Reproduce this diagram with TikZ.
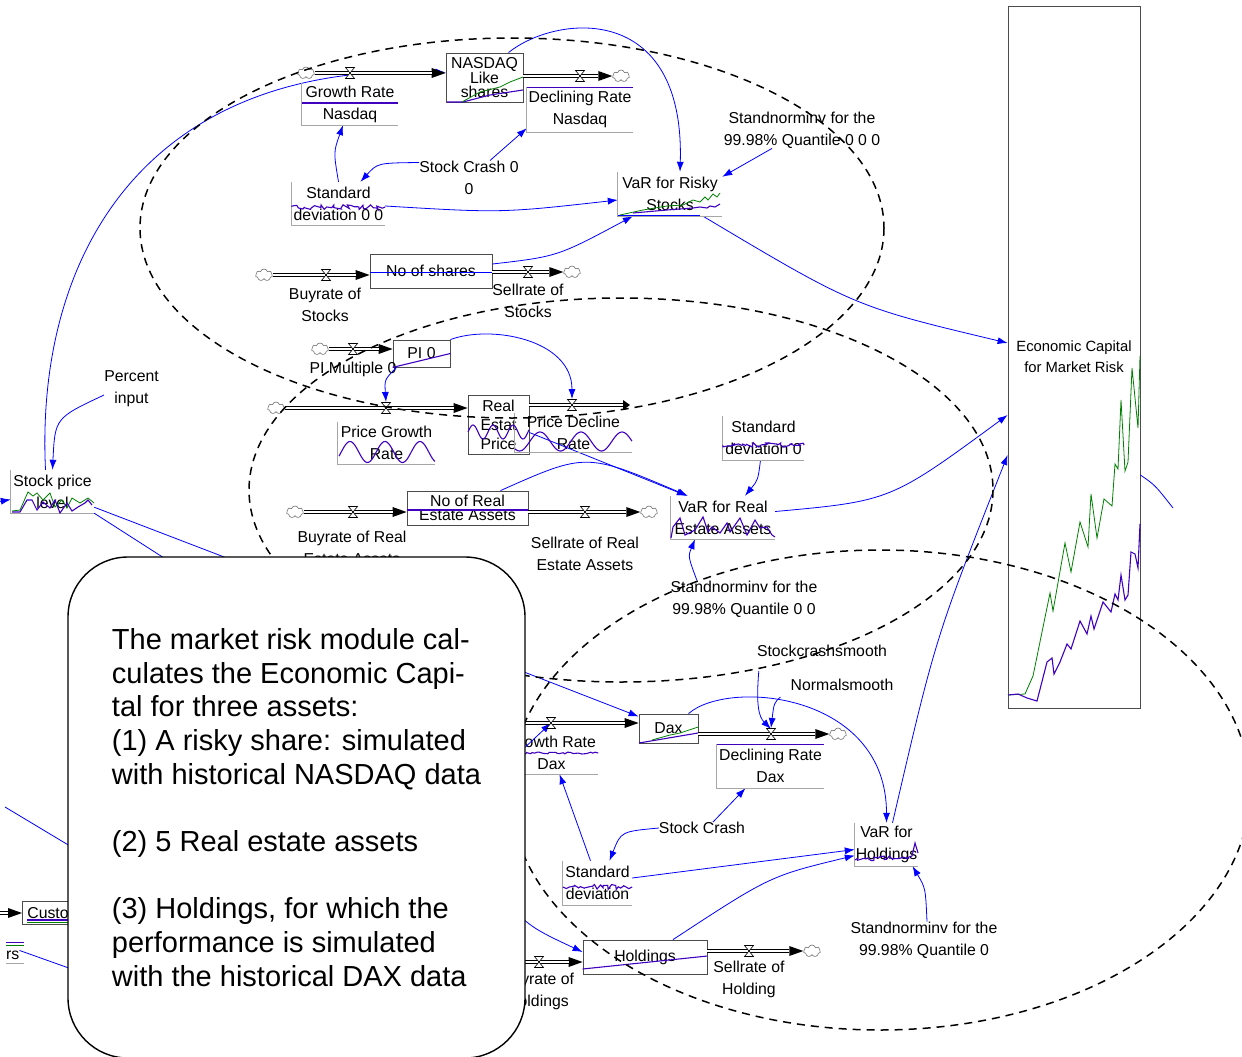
\documentclass[tikz,border=0pt]{standalone}
\usepackage{fontspec}
\setmainfont{Liberation Sans}
\usetikzlibrary{arrows.meta,shapes.symbols,decorations.pathmorphing}
\definecolor{linkblue}{RGB}{0,0,255}
\definecolor{runpurple}{RGB}{64,0,192}
\definecolor{rungreen}{RGB}{0,128,0}

\begin{document}
\begin{tikzpicture}[
x=1pt, y=-1pt,
lbl/.style={align=center, inner sep=0pt, font=\fontsize{15.8}{22}\selectfont},
stock/.style={draw=black!70, line width=0.8pt, align=center, inner sep=0pt, font=\fontsize{15.8}{22}\selectfont},
gaux/.style={align=center, inner sep=0pt, font=\fontsize{15.8}{22}\selectfont},
gframe/.style={draw=black!35, line width=1pt},
link/.style={linkblue, line width=0.8pt, -{Latex[length=10pt,width=7pt]}},
wire/.style={linkblue, line width=0.8pt},
pipe/.style={line width=3.6pt, -{Triangle[length=#1pt,width=10pt,line width=0pt]}, postaction={draw=white, line width=2pt, -, shorten >=#1pt}},
pipe/.default=14,
sink/.style={cloud, cloud puffs=7, aspect=1.4, draw=black!55, fill=white, minimum width=17pt, minimum height=12pt, inner sep=0pt, line width=0.6pt},
bound/.style={line width=1.5pt, dash pattern=on 8pt off 6pt},
run/.style={runpurple, line width=1.1pt},
runb/.style={rungreen, line width=0.8pt},
jag/.style={decorate, decoration={random steps, segment length=2.5pt, amplitude=2.5pt}},
note/.style={draw, line width=1.4pt, fill=white, rounded corners=60pt, minimum width=457, minimum height=501, align=left, inner sep=0pt, font=\fontsize{29}{33.7}\selectfont},
valve/.pic={\draw[fill=white, line width=0.6pt] (-4.5,-5.5) -- (4.5,-5.5) -- (-4.5,5.5) -- (4.5,5.5) -- cycle;}
]
\useasboundingbox (0,0) rectangle (1242,1057);
\pgfmathsetseed{3}

\coordinate (vgn) at (350,73);
\coordinate (vdn) at (580,76);
\coordinate (vbs) at (326,275);
\coordinate (vss) at (528,272);
\coordinate (vpm) at (353,349);
\coordinate (vpg) at (386,408);
\coordinate (vpd) at (572,405);
\coordinate (pend) at (630,405);
\coordinate (vbr) at (353,512);
\coordinate (vsr) at (585,512);
\coordinate (din) at (480,723);
\coordinate (vgd) at (551,723);
\coordinate (vdd) at (771,734);
\coordinate (hin) at (480,962);
\coordinate (vbh) at (539,962);
\coordinate (vsh) at (749,951);
\coordinate (cin) at (-20,913);
\coordinate (dlink) at (470,651);
\coordinate (glink) at (505,766);
\coordinate (hlink) at (480,870);
\coordinate (eout) at (1173,508);
\coordinate (sout1) at (175,565);
\coordinate (sout2) at (245,565);
\coordinate (sin) at (-15,504);
\coordinate (lw1) at (5,807);
\coordinate (lw1e) at (80,852);
\coordinate (lw2e) at (80,972);

\node[stock, minimum width=77, minimum height=49, font=\fontsize{15.8}{14}\selectfont] (nasdaq) at (484.5,77.5) {NASDAQ\\Like\\shares};
\node[gaux, minimum width=96, minimum height=42] (grn) at (350,104) {Growth Rate\\Nasdaq};
\node[gaux, minimum width=106, minimum height=45] (dcn) at (580,109.5) {Declining Rate\\Nasdaq};
\node[lbl] (crash0) at (469,177.5) {Stock Crash 0\\0};
\node[gaux, minimum width=93, minimum height=43] (sdnas) at (338.5,203.5) {Standard\\deviation 0 0};
\node[gaux, minimum width=104, minimum height=44] (varrs) at (670,194) {VaR for Risky\\Stocks};
\node[lbl] (snrs) at (802,130) {Standnorminv for the\\99.98\% Quantile 0 0 0};
\node[stock, minimum width=122, minimum height=34] (shares) at (431,271) {No of shares};
\node[lbl] (buys) at (325,305) {Buyrate of\\Stocks};
\node[lbl] (sells) at (528,300.5) {Sellrate of\\Stocks};
\node[stock, minimum width=57, minimum height=27] (pst) at (421.5,353.5) {PI 0};
\node[lbl] (pim) at (353,369) {PI Multiple 0};
\node[gaux, minimum width=97, minimum height=42] (pgr) at (386.5,443) {Price Growth\\Rate};
\node[stock, minimum width=61, minimum height=59, font=\fontsize{15.8}{19}\selectfont] (rep) at (498.5,424.5) {Real\\Estat\\Price};
\node[gaux, minimum width=117, minimum height=39] (pdr) at (573.5,432.5) {Price Decline\\Rate};
\node[gaux, minimum width=81, minimum height=44] (sdre) at (763.5,438) {Standard\\deviation 0};
\node[gaux, minimum width=104, minimum height=43] (varre) at (723,517.5) {VaR for Real\\Estate Assets};
\node[lbl] (snre) at (744,599) {Standnorminv for the\\99.98\% Quantile 0 0};
\node[stock, minimum width=121, minimum height=34, font=\fontsize{15.8}{14}\selectfont] (nre) at (467.5,508) {No of Real\\Estate Assets};
\node[lbl] (buyr) at (352,548) {Buyrate of Real\\Estate Assets};
\node[lbl] (sellr) at (585,554) {Sellrate of Real\\Estate Assets};
\node[lbl] (pinput) at (131.5,389) {Percent\\input};
\node[gaux, minimum width=83, minimum height=43] (spl) at (52.5,491.5) {Stock price\\level};
\node[stock, minimum width=132, minimum height=702, font=\fontsize{14.8}{21}\selectfont] (econ) at (1074,357) {Economic Capital\\for Market Risk};
\node[stock, minimum width=59, minimum height=29] (dax) at (668.5,728.5) {Dax};
\node[gaux, minimum width=93, minimum height=43] (grd) at (551.5,752.5) {Growth Rate\\Dax};
\node[gaux, minimum width=107, minimum height=44] (dcd) at (770.5,766) {Declining Rate\\Dax};
\node[lbl] (scs) at (822,651) {Stockcrashsmooth};
\node[lbl] (nsm) at (842,685) {Normalsmooth};
\node[lbl] (crash) at (702,828) {Stock Crash};
\node[gaux, minimum width=69, minimum height=44] (sdd) at (597.5,883) {Standard\\deviation};
\node[gaux, minimum width=63, minimum height=43] (varh) at (886.5,844.5) {VaR for\\Holdings};
\node[lbl] (snh) at (924,940) {Standnorminv for the\\99.98\% Quantile 0};
\node[stock, minimum width=124, minimum height=34] (hold) at (645,957) {Holdings};
\node[lbl] (buyh) at (538,991.5) {Buyrate of\\Holdings};
\node[lbl] (sellh) at (749,979) {Sellrate of\\Holding};
\node[stock, anchor=west, minimum height=23, text width=80, align=left, inner xsep=5pt] (cust) at (22,913) {Custo};
\node[lbl, anchor=west] (ers) at (6,955) {rs};

\node[sink] (cl1) at (306,73) {};
\node[sink] (cl2) at (621,76) {};
\node[sink] (cl3) at (264,275) {};
\node[sink] (cl4) at (572,272) {};
\node[sink] (cl5) at (320,349) {};
\node[sink] (cl6) at (276,408) {};
\node[sink] (cl7) at (295,512) {};
\node[sink] (cl8) at (649,512) {};
\node[sink] (cl9) at (838,734) {};
\node[sink] (cl10) at (812,951) {};

\draw[link] ([xshift=-7pt]spl.north) .. controls (35,250) and (150,60) .. ([yshift=5pt]nasdaq.west);
\draw[link] ([yshift=-6pt]pinput.west) .. controls (55,418) .. (spl.north);
\draw[link] (sin) -- ([yshift=-8pt]spl.west);
\draw[wire] (spl.south east) -- (sout1);
\draw[wire] ([yshift=6pt]spl.south east) -- (sout2);
\draw[link] (sdnas.north) .. controls (333.5,152) .. ([xshift=-7pt]grn.south);
\draw[link] ([yshift=15pt]crash0.west) .. controls (377.5,163) .. ([xshift=22pt]sdnas.north);
\draw[link] ([xshift=21pt]crash0.north) -- ([yshift=4pt]dcn.south west);
\draw[link] ([yshift=-2.5pt]sdnas.east) .. controls (501.5,213) .. ([yshift=-6pt]varrs.west);
\draw[link] ([xshift=24pt]nasdaq.north) .. controls (555,15) and (685,0) .. ([xshift=10pt]varrs.north);
\draw[link] ([xshift=-30pt]snrs.south) -- ([yshift=-5pt]varrs.north east);
\draw[link] ([yshift=7pt]shares.east) .. controls (557.5,256.5) .. ([xshift=15pt]varrs.south west);
\draw[link] ([xshift=33pt]varrs.south) .. controls (854.5,306.5) .. ([yshift=14pt]econ.west);
\draw[link] ([xshift=4pt]pst.south west) .. controls (384.5,379.5) .. ([yshift=6pt]vpg);
\draw[link] (pst.north east) .. controls +(40,-15) and +(0,-60) .. ([yshift=6pt]vpd);
\draw[link] ([yshift=-8pt]rep.east) -- ([xshift=16pt]varre.north west);
\draw[link] ([xshift=33pt]nre.north) .. controls (586,452.5) .. ([xshift=17pt]varre.north west);
\draw[link] ([xshift=-3pt]sdre.south) .. controls (758,480) .. ([xshift=22pt]varre.north);
\draw[link] ([xshift=-47pt]snre.north) .. controls (688,556.5) .. ([xshift=-28pt]varre.south);
\draw[link] ([yshift=6pt]varre.east) .. controls (890.5,501) .. ([yshift=-58pt]econ.west);
\draw[link] (dlink) -- ([yshift=12pt]dax.west);
\draw[link] (glink) -- (vgd);
\draw[link] ([xshift=20pt]dax.north) .. controls +(40,-35) and +(0,-130) .. (varh.north);
\draw[link] ([xshift=2pt,yshift=-14pt]scs.south west) .. controls +(-3,35) and +(-12,-12) .. ([yshift=5pt]vdd);
\draw[link] ([xshift=-10pt,yshift=-6pt]nsm.south west) .. controls (774,703) .. ([yshift=6pt]vdd);
\draw[link] ([xshift=11pt]crash.north) -- ([xshift=-25pt]dcd.south);
\draw[link] (crash.west) .. controls (621,831.5) .. ([xshift=12pt]sdd.north);
\draw[link] ([xshift=-7pt]sdd.north) -- ([xshift=8pt]grd.south);
\draw[link] ([yshift=5pt]sdd.east) -- ([yshift=-5pt]varh.west);
\draw[link] ([xshift=28pt]hold.north) .. controls (770,876) .. ([yshift=-11pt]varh.west);
\draw[link] ([xshift=3pt]snh.north) .. controls (925.5,888) .. ([xshift=26pt]varh.south);
\draw[link] (hlink) .. controls (525,925) .. ([yshift=5pt]hold.west);
\draw[link] ([xshift=6pt]varh.north) .. controls (935.5,637.5) .. ([yshift=-98pt]econ.west);
\draw[wire] ([yshift=-118pt]econ.east) .. controls (1155,485) .. (eout);
\draw[wire] (lw1) -- (lw1e);
\draw[wire] (ers.north east) -- (lw2e);

\draw[pipe] (cl1.east) -- (cl1.east -| nasdaq.west);
\draw[pipe] (nasdaq.east |- cl2.west) -- (cl2.west);
\draw[pipe] (cl3.east) -- (cl3.east -| shares.west);
\draw[pipe] (shares.east |- cl4.west) -- (cl4.west);
\draw[pipe] (cl5.east) -- (cl5.east -| pst.west);
\draw[pipe] (cl6.east) -- (cl6.east -| rep.west);
\draw[pipe=7] (rep.east |- pend) -- (pend);
\draw[pipe] (cl7.east) -- (cl7.east -| nre.west);
\draw[pipe] (nre.east |- cl8.west) -- (cl8.west);
\draw[pipe] (din) -- (din -| dax.west);
\draw[pipe] (dax.east |- cl9.west) -- (cl9.west);
\draw[pipe] (hin) -- (hin -| hold.west);
\draw[pipe] (hold.east |- cl10.west) -- (cl10.west);
\draw[pipe] (cin) -- (cin -| cust.west);

\foreach \v in {vgn,vdn,vbs,vss,vpm,vpg,vpd,vbr,vsr,vgd,vdd,vbh,vsh}
  \pic at (\v) {valve};

\draw[gframe] (grn.north west) |- (grn.south east);
\draw[gframe] (dcn.north west) |- (dcn.south east);
\draw[gframe] (sdnas.north west) |- (sdnas.south east);
\draw[gframe] (varrs.north west) |- (varrs.south east);
\draw[gframe] (pgr.north west) |- (pgr.south east);
\draw[gframe] (pdr.north west) |- (pdr.south east);
\draw[gframe] (sdre.north west) |- (sdre.south east);
\draw[gframe] (varre.north west) |- (varre.south east);
\draw[gframe] (spl.north west) |- (spl.south east);
\draw[gframe] (grd.north west) |- (grd.south east);
\draw[gframe] (dcd.north west) |- (dcd.south east);
\draw[gframe] (sdd.north west) |- (sdd.south east);
\draw[gframe] (varh.north west) |- (varh.south east);
\draw[gframe] ([yshift=-4pt]ers.south west) -- ++(18,0);

\draw[run] (447,102) -- (463,102) -- (490,95) -- (523,90);
\draw[runb] (462,102) -- (480,92) -- (500,87) -- (510,82) -- (523,77);
\draw[run] ([yshift=1pt]grn.west) -- ([yshift=1pt]grn.east);
\draw[run] ([yshift=-1pt]dcn.north west) -- ([yshift=-1pt]dcn.north east);
\draw[run, jag] ([yshift=-3.5pt]sdnas.west) -- ([yshift=-3.5pt]sdnas.east);
\draw[linkblue, line width=1pt] (618,215) -- (700,215);
\draw[runb] (620,215) -- (643,210) -- (667,206) -- (683,205) -- (693,200) -- (700,202) -- (705,197) -- (708,200) -- (713,194) -- (717,197) -- (720,193);
\draw[run] (633,213) -- (667,210) -- (693,208) -- (700,207) -- (707,208) -- (710,206) -- (715,207) -- (720,204);
\draw[linkblue, line width=1pt] ([yshift=-1pt]shares.west) -- ([yshift=-1pt]shares.east);
\draw[run] (pst.south west) -- (pst.east);
\draw[run] plot[domain=339:435, samples=90] ({\x}, {452-10.5*sin((\x-341.25)/35*360)});
\draw[run] plot[domain=468:529, samples=60] ({\x}, {432-7*sin((\x-468)/20*360)});
\draw[run] plot[domain=515:632, samples=110] ({\x}, {441.5-9.5*sin((\x-529.75)/41*360)});
\draw[run, jag] ([yshift=-7pt]sdre.west) -- ([yshift=-7pt]sdre.east);
\draw[run] (671,538) -- (673,527) -- (680,518) -- (685,535) -- (695,530) -- (703,517) -- (708,532) -- (712,527) -- (720,533) -- (727,523) -- (730,532) -- (740,518) -- (747,535) -- (755,520) -- (760,528) -- (767,527) -- (772,535) -- (775,537);
\draw[run] ([yshift=-2pt]nre.west) -- ([yshift=-2pt]nre.east);
\draw[runb] (12,511) -- (20,510) -- (28,492) -- (33,496) -- (37,493) -- (43,500) -- (50,493) -- (55,507) -- (62,500) -- (67,508) -- (72,498) -- (80,503) -- (88,498) -- (94,503);
\draw[run] (12,512) -- (20,512) -- (27,500) -- (32,500) -- (37,510) -- (43,502) -- (50,508) -- (55,500) -- (60,513) -- (67,503) -- (72,511) -- (78,507) -- (85,503) -- (88,500) -- (92,505);
\draw[runb] (1008,695) -- (1025,694) -- (1033,676) -- (1050,593) -- (1053,611) -- (1065,543) -- (1071,572) -- (1080,522) -- (1088,547) -- (1091,494) -- (1097,538) -- (1104,499) -- (1112,506) -- (1115,464) -- (1118,469) -- (1121,400) -- (1125,471) -- (1128,462) -- (1132,368) -- (1138,428) -- (1140,356);
\draw[run] (1008,695) -- (1018,694) -- (1027,698) -- (1037,701) -- (1047,662) -- (1052,658) -- (1054,674) -- (1060,662) -- (1067,644) -- (1071,649) -- (1080,621) -- (1087,634) -- (1091,616) -- (1094,629) -- (1103,602) -- (1111,612) -- (1115,594) -- (1118,600) -- (1121,575) -- (1125,600) -- (1128,595) -- (1131,552) -- (1135,554) -- (1138,568) -- (1140,524);
\draw[run] (639,743) -- (698,733);
\draw[runb] (652,740) -- (670,735) -- (680,733) -- (698,727);
\draw[run, jag, decoration={amplitude=1pt}] ([yshift=-0.5pt]grd.west) -- ([yshift=-0.5pt]grd.east);
\draw[run] ([yshift=-1pt]dcd.north west) -- ([yshift=-1pt]dcd.north east);
\draw[run, jag] ([yshift=-4pt]sdd.west) -- ([yshift=-4pt]sdd.east);
\draw[run, jag] (855,860) -- (912,856);
\draw[run] (912,856) -- (915,843) -- (918,853);
\draw[run] ([yshift=-12pt]hold.west) -- ([yshift=1pt]hold.east);
\draw[run] ([xshift=5pt,yshift=-7pt]cust.west) -- ([yshift=-7pt]cust.east);
\draw[runb] ([xshift=5pt,yshift=-9pt]cust.west) -- ([yshift=-9pt]cust.east);
\draw[run] ([yshift=17pt]ers.south west) -- ++(18,0);
\draw[runb] ([yshift=14pt]ers.south west) -- ++(18,0);

\draw[bound] (512,228) ellipse [x radius=372, y radius=190];
\draw[bound] (621,490) ellipse [x radius=372, y radius=192];
\draw[bound] (880,790) ellipse [x radius=370, y radius=240];

\node[note] (memo) at (296.5,807.5) {The market risk module cal-\\culates the Economic Capi-\\tal for three assets:\\(1) A risky share: simulated\\with historical NASDAQ data\\[33.7pt](2) 5 Real estate assets\\[33.7pt](3) Holdings, for which the\\performance is simulated\\with the historical DAX data};
\end{tikzpicture}
\end{document}
